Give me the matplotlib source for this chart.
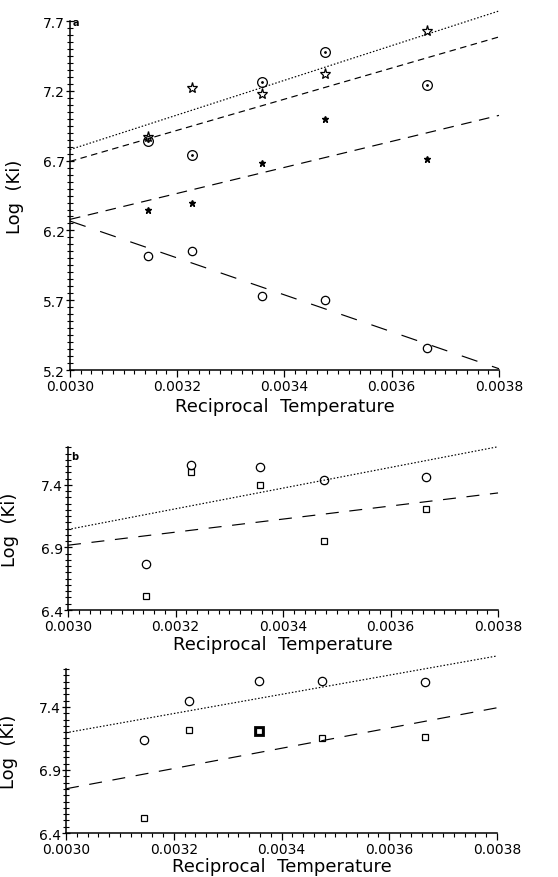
import numpy as np
import matplotlib
matplotlib.use("Agg")
import matplotlib.pyplot as plt
from matplotlib.ticker import MultipleLocator, FormatStrFormatter

# reciprocal temperature (1/K) of the five measurements
recip_temp = [0.003145, 0.003228, 0.003358, 0.003476, 0.003666]

# panel a
a_star = [6.87, 7.22, 7.18, 7.32, 7.63]
a_dotcircle = [6.84, 6.74, 7.26, 7.48, 7.24]
a_asterisk = [6.35, 6.40, 6.68, 7.00, 6.71]
a_circle = [6.02, 6.05, 5.73, 5.70, 5.36]

# panel b
b_circle = [6.77, 7.56, 7.54, 7.44, 7.46]
b_square = [6.51, 7.50, 7.40, 6.95, 7.21]

# panel c
c_circle = [7.14, 7.445, 7.61, 7.61, 7.60]
c_square = [6.52, 7.22, 7.21, 7.15, 7.16]

x_range = [0.0030, 0.0038]

plt.rcParams['font.family'] = ['DejaVu Sans']

fig = plt.figure(figsize=(5.58, 8.78), dpi=100)
ax_a = fig.add_axes([0.1254, 0.5774, 0.7688, 0.3975])
ax_b = fig.add_axes([0.1219, 0.3041, 0.7706, 0.1851])
ax_c = fig.add_axes([0.1183, 0.0501, 0.7724, 0.1866])


def fit_line(ax, y, ls):
    # least squares line through the points, drawn over the full x range
    k, b = np.polyfit(recip_temp, y, 1)
    xs = np.array(x_range)
    ax.plot(xs, k * xs + b, color='black', lw=0.85, ls=ls, clip_on=False)


def style_axes(ax, ymin, ymax, yticks, lab_x):
    ax.set_xlim(x_range)
    ax.set_ylim(ymin, ymax)
    ax.spines['top'].set_visible(False)
    ax.spines['right'].set_visible(False)
    ax.spines['left'].set_linewidth(1.1)
    ax.spines['bottom'].set_linewidth(1.1)
    ax.set_xticks([0.0030, 0.0032, 0.0034, 0.0036, 0.0038])
    ax.xaxis.set_minor_locator(MultipleLocator(0.00002))
    ax.xaxis.set_major_formatter(FormatStrFormatter('%.4f'))
    ax.set_yticks(yticks)
    ax.yaxis.set_minor_locator(MultipleLocator(0.05))
    ax.yaxis.set_major_formatter(FormatStrFormatter('%.1f'))
    ax.tick_params(axis='x', which='major', direction='out', length=5, width=0.9,
                   labelsize=10, pad=1.5)
    ax.tick_params(axis='x', which='minor', direction='out', length=3, width=0.8)
    ax.tick_params(axis='y', which='major', direction='inout', length=6, width=0.9,
                   labelsize=10, pad=0.5)
    ax.tick_params(axis='y', which='minor', direction='inout', length=4, width=0.8)
    ax.set_xlabel('Reciprocal  Temperature', fontsize=13)
    ax.set_ylabel('Log  (Ki)', fontsize=13)
    ax.yaxis.set_label_coords(lab_x, 0.5)


# ---- panel a ----
fit_line(ax_a, a_star, (0, (1.3, 1.6)))
fit_line(ax_a, a_dotcircle, (0, (5.5, 3.8)))
fit_line(ax_a, a_asterisk, (0, (9, 6.5)))
fit_line(ax_a, a_circle, (0, (14, 13)))
ax_a.plot(recip_temp, a_star, ls='none', marker='*', ms=8, mfc='none', mec='black', mew=0.9)
ax_a.plot(recip_temp, a_dotcircle, ls='none', marker='o', ms=7, mfc='none', mec='black', mew=0.9)
ax_a.plot(recip_temp, a_dotcircle, ls='none', marker='.', ms=2, color='black')
ax_a.plot(recip_temp, a_asterisk, ls='none', marker='*', ms=5, color='black')
ax_a.plot(recip_temp, a_circle, ls='none', marker='o', ms=6, mfc='none', mec='black', mew=0.9)
style_axes(ax_a, 5.2, 7.7, [5.2, 5.7, 6.2, 6.7, 7.2, 7.7], -0.107)
ax_a.xaxis.set_label_coords(0.5, -36 / 349)
ax_a.xaxis.label.set_va('center')
ax_a.text(0.003005, 7.69, 'a', fontsize=7, fontweight='bold', va='center', ha='left')

# ---- panel b ----
fit_line(ax_b, b_circle, (0, (1.3, 1.6)))
fit_line(ax_b, b_square, (0, (11, 9)))
ax_b.plot(recip_temp, b_circle, ls='none', marker='o', ms=6, mfc='none', mec='black', mew=0.9)
ax_b.plot(recip_temp, b_square, ls='none', marker='s', ms=5, mfc='none', mec='black', mew=0.9)
style_axes(ax_b, 6.4, 7.7, [6.4, 6.9, 7.4], -0.114)
ax_b.xaxis.set_label_coords(0.5, -34 / 162.5)
ax_b.xaxis.label.set_va('center')
ax_b.text(0.003005, 7.63, 'b', fontsize=7, fontweight='bold', va='center', ha='left')

# ---- panel c ----
fit_line(ax_c, c_circle, (0, (1.3, 1.6)))
fit_line(ax_c, c_square, (0, (11, 9)))
ax_c.plot(recip_temp, c_circle, ls='none', marker='o', ms=6, mfc='none', mec='black', mew=0.9)
ax_c.plot(recip_temp, c_square, ls='none', marker='s', ms=5, mfc='none', mec='black', mew=0.9)
# the 25 C square is printed heavier in the original
ax_c.plot(recip_temp[2], c_square[2], ls='none', marker='s', ms=5.5, mfc='none', mec='black', mew=2)
style_axes(ax_c, 6.4, 7.7, [6.4, 6.9, 7.4], -0.111)
ax_c.xaxis.set_label_coords(0.5, -33 / 163.8)
ax_c.xaxis.label.set_va('center')

fig.savefig('out.png', dpi=100)
